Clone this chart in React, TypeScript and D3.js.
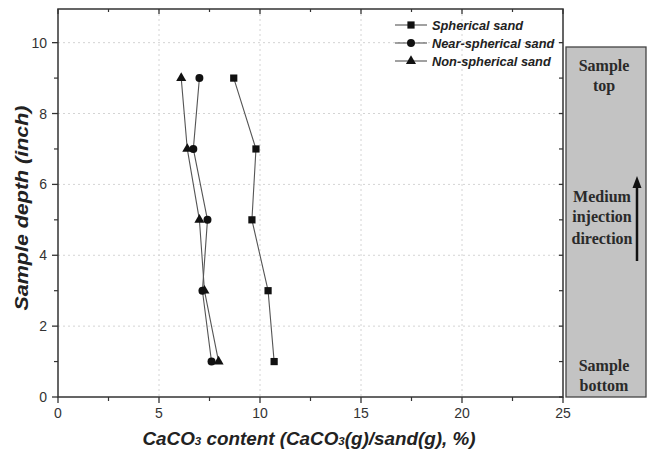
import React from "react";
import * as d3 from "d3";

// Sample depths (inch) and CaCO3 content (%) for each sand type
const depths = [9, 7, 5, 3, 1];
const spherical = [8.7, 9.8, 9.6, 10.4, 10.7];
const nearSpherical = [7.0, 6.7, 7.4, 7.15, 7.6];
const nonSpherical = [6.1, 6.4, 7.0, 7.25, 7.95];

const seriesNames = ["Spherical sand", "Near-spherical sand", "Non-spherical sand"];
const seriesShapes = ["square", "circle", "triangle"];

const xTicks = [0, 5, 10, 15, 20, 25];
const xMinorTicks = [2.5, 7.5, 12.5, 17.5, 22.5];
const yTicks = [0, 2, 4, 6, 8, 10];
const yMinorTicks = [1, 3, 5, 7, 9];

const W = 649;
const H = 456;
const left = 58;
const right = 563;
const top = 9;
const bottom = 397;

const sans = "'Liberation Sans', Arial, sans-serif";
const serif = "'Liberation Serif', 'Times New Roman', serif";

function Marker({ shape, x, y }: { shape: string; x: number; y: number }) {
  const sym =
    shape === "square" ? d3.symbolSquare : shape === "circle" ? d3.symbolCircle : d3.symbolTriangle;
  const size = shape === "square" ? 52 : shape === "circle" ? 50 : 44;
  const path = d3.symbol().type(sym).size(size)() || "";
  return <path d={path} transform={`translate(${x},${y})`} fill="#111" />;
}

export default function App() {
  const x = d3.scaleLinear().domain([0, 25]).range([left, right]);
  const y = d3.scaleLinear().domain([0, 10.95]).range([bottom, top]);

  const series = [spherical, nearSpherical, nonSpherical];
  const line = d3
    .line<[number, number]>()
    .x((d) => x(d[0]))
    .y((d) => y(d[1]));

  const legendX = 395;
  const legendY = [25, 43, 61];

  const boxL = 566;
  const boxR = 646;
  const boxT = 47;
  const boxB = 397;
  const boxC = (boxL + boxR) / 2 - 2;

  return (
    <svg
      width={W}
      height={H}
      style={{ position: "absolute", left: 0, top: 0, background: "#fff" }}
    >
      {/* grid */}
      {xTicks
        .filter((t) => t > 0 && t < 25)
        .map((t) => (
          <line
            key={"gx" + t}
            x1={x(t)}
            x2={x(t)}
            y1={top}
            y2={bottom}
            stroke="#d4d4d4"
            strokeDasharray="2,3"
          />
        ))}
      {yTicks
        .filter((t) => t > 0)
        .map((t) => (
          <line
            key={"gy" + t}
            x1={left}
            x2={right}
            y1={y(t)}
            y2={y(t)}
            stroke="#d4d4d4"
            strokeDasharray="2,3"
          />
        ))}

      {/* frame */}
      <rect
        x={left}
        y={top}
        width={right - left}
        height={bottom - top}
        fill="none"
        stroke="#333"
        strokeWidth={1.5}
      />

      {/* bottom axis ticks (outward) and top ticks (inward) */}
      {xTicks.map((t) => (
        <g key={"xt" + t}>
          <line x1={x(t)} x2={x(t)} y1={bottom} y2={bottom + 6} stroke="#333" strokeWidth={1.3} />
          <line x1={x(t)} x2={x(t)} y1={top} y2={top + 5} stroke="#333" strokeWidth={1.3} />
          <text
            x={x(t)}
            y={bottom + 21}
            textAnchor="middle"
            fontFamily={sans}
            fontSize={14}
            fill="#333"
          >
            {t}
          </text>
        </g>
      ))}
      {xMinorTicks.map((t) => (
        <g key={"xm" + t}>
          <line x1={x(t)} x2={x(t)} y1={bottom} y2={bottom + 4} stroke="#333" strokeWidth={1.2} />
          <line x1={x(t)} x2={x(t)} y1={top} y2={top + 3} stroke="#333" strokeWidth={1.2} />
        </g>
      ))}

      {/* left axis ticks (outward) and right ticks (inward) */}
      {yTicks.map((t) => (
        <g key={"yt" + t}>
          <line x1={left - 6} x2={left} y1={y(t)} y2={y(t)} stroke="#333" strokeWidth={1.3} />
          <line x1={right - 4} x2={right} y1={y(t)} y2={y(t)} stroke="#333" strokeWidth={1.3} />
          <text
            x={left - 11}
            y={y(t) + 5}
            textAnchor="end"
            fontFamily={sans}
            fontSize={14}
            fill="#333"
          >
            {t}
          </text>
        </g>
      ))}
      {yMinorTicks.map((t) => (
        <g key={"ym" + t}>
          <line x1={left - 4} x2={left} y1={y(t)} y2={y(t)} stroke="#333" strokeWidth={1.2} />
          <line x1={right - 4} x2={right} y1={y(t)} y2={y(t)} stroke="#333" strokeWidth={1.2} />
        </g>
      ))}

      {/* series */}
      {series.map((vals, i) => {
        const pts = vals.map((v, j) => [v, depths[j]] as [number, number]);
        return (
          <g key={"s" + i}>
            <path d={line(pts) || ""} fill="none" stroke="#555" strokeWidth={1.1} />
            {pts.map((p, j) => (
              <Marker key={j} shape={seriesShapes[i]} x={x(p[0])} y={y(p[1])} />
            ))}
          </g>
        );
      })}

      {/* legend */}
      {seriesNames.map((name, i) => (
        <g key={"lg" + i}>
          <line
            x1={legendX}
            x2={legendX + 32}
            y1={legendY[i]}
            y2={legendY[i]}
            stroke="#555"
            strokeWidth={1.1}
          />
          <Marker shape={seriesShapes[i]} x={legendX + 16} y={legendY[i]} />
          <text
            x={legendX + 37}
            y={legendY[i] + 4.5}
            fontFamily={sans}
            fontSize={12.8}
            fontWeight="bold"
            fontStyle="italic"
            fill="#222"
          >
            {name}
          </text>
        </g>
      ))}

      {/* axis titles */}
      <text
        transform={`translate(28,208) rotate(-90)`}
        textAnchor="middle"
        fontFamily={sans}
        fontSize={18}
        fontWeight="bold"
        fontStyle="italic"
        fill="#222"
        textLength={205}
        lengthAdjust="spacingAndGlyphs"
      >
        Sample depth (inch)
      </text>
      <text
        x={309}
        y={445}
        textAnchor="middle"
        fontFamily={sans}
        fontSize={18}
        fontWeight="bold"
        fontStyle="italic"
        fill="#222"
        textLength={333}
        lengthAdjust="spacingAndGlyphs"
      >
        CaCO<tspan fontSize={11}>3</tspan> content (CaCO<tspan fontSize={11}>3</tspan>(g)/sand(g), %)
      </text>

      {/* side panel: injection direction */}
      <rect
        x={boxL}
        y={boxT}
        width={boxR - boxL}
        height={boxB - boxT}
        fill="#c3c3c3"
        stroke="#444"
        strokeWidth={1.3}
      />
      <g fontFamily={serif} fontWeight="bold" fontSize={16} fill="#2a2a2a" textAnchor="middle">
        <text x={boxC} y={71}>Sample</text>
        <text x={boxC} y={91}>top</text>
        <text x={boxC - 2} y={202}>Medium</text>
        <text x={boxC - 2} y={222}>injection</text>
        <text x={boxC - 2} y={244}>direction</text>
        <text x={boxC} y={371}>Sample</text>
        <text x={boxC} y={391}>bottom</text>
      </g>
      <line x1={637} x2={637} y1={261} y2={186} stroke="#111" strokeWidth={2.5} />
      <path d="M637,176 L632.5,188 L641.5,188 Z" fill="#111" />
    </svg>
  );
}
